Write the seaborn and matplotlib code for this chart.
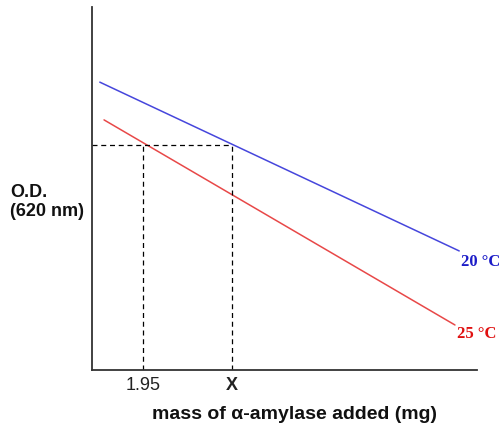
import numpy as np
import pandas as pd
import seaborn as sns
import matplotlib.pyplot as plt

# data (mass in mg, O.D. in arbitrary units)
mass_20 = [1.44, 5.68]
od_20 = [0.793, 0.328]
mass_25 = [1.49, 5.63]
od_25 = [0.689, 0.124]
x_known = 1.95
x_unknown = 3.0
od_read = 0.620
tick_labels = ["1.95", "X"]

sns.set_style("white")
plt.rcParams["font.family"] = ["Liberation Sans", "DejaVu Sans"]

df = pd.concat([
    pd.DataFrame({"mass": mass_20, "od": od_20, "temp": "20 °C"}),
    pd.DataFrame({"mass": mass_25, "od": od_25, "temp": "25 °C"}),
])

fig = plt.figure(figsize=(4.99, 4.27), dpi=100)
ax = fig.add_axes([92 / 499, 1 - 371 / 427, 385 / 499, 363 / 427])

sns.lineplot(data=df, x="mass", y="od", hue="temp",
             palette={"20 °C": "#4646dc", "25 °C": "#e84848"},
             linewidth=1.1, legend=False, ax=ax)

xmin, xmax = 1.348, 5.89
ax.set_xlim(xmin, xmax)
ax.set_ylim(0, 1)

# dashed guide lines
ax.plot([xmin, x_unknown], [od_read, od_read], color="black", ls=(0, (4, 3)), lw=0.9)
ax.plot([x_known, x_known], [0, od_read], color="black", ls=(0, (4, 3)), lw=0.9)
ax.plot([x_unknown, x_unknown], [0, od_read], color="black", ls=(0, (4, 3)), lw=0.9)

# line labels
ax.text(mass_20[1] + 0.02, od_20[1] - 0.027, "20 °C", color="#1c1cc8", fontsize=12,
        fontweight="bold", family=["Liberation Serif", "DejaVu Serif"], va="center", ha="left",
        clip_on=False)
ax.text(mass_25[1] + 0.02, od_25[1] - 0.022, "25 °C", color="#e01010", fontsize=12,
        fontweight="bold", family=["Liberation Serif", "DejaVu Serif"], va="center", ha="left",
        clip_on=False)

ax.set_xticks([x_known, x_unknown])
ax.set_xticklabels(tick_labels, fontsize=13, color="#222222")
ax.get_xticklabels()[1].set_fontweight("bold")
ax.set_yticks([])
ax.tick_params(axis="x", length=0, pad=4)

ax.set_xlabel("mass of α-amylase added (mg)", fontsize=14, fontweight="bold", color="#111111")
ax.xaxis.set_label_coords((294 - 92) / 385, -0.096)
ax.set_ylabel("")
fig.text(10 / 499, 1 - 202 / 427, "O.D.\n(620 nm)", fontsize=13, fontweight="bold",
         color="#111111", ha="left", va="center", linespacing=1.15)

sns.despine(ax=ax)
for s in ["left", "bottom"]:
    ax.spines[s].set_color("#333333")
    ax.spines[s].set_linewidth(1.3)

fig.savefig("out.png", dpi=100)
